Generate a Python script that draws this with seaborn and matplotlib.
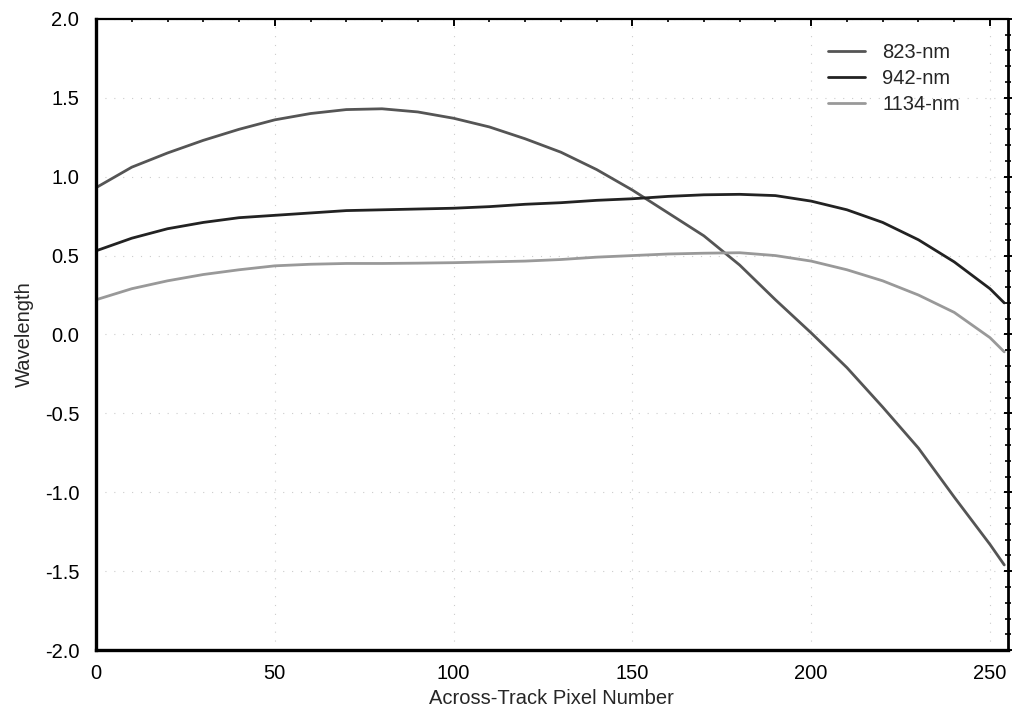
import matplotlib
matplotlib.use("Agg")
import matplotlib.pyplot as plt
import seaborn as sns
import pandas as pd
from matplotlib.ticker import MultipleLocator, FormatStrFormatter

# Across-track pixel positions and per-band values
pixels = [0, 10, 20, 30, 40, 50, 60, 70, 80, 90, 100, 110, 120, 130, 140,
          150, 160, 170, 180, 190, 200, 210, 220, 230, 240, 250, 254]
band_823 = [0.93, 1.06, 1.15, 1.23, 1.30, 1.36, 1.40, 1.425, 1.43, 1.41, 1.37,
            1.315, 1.24, 1.155, 1.045, 0.915, 0.77, 0.625, 0.44, 0.22, 0.01,
            -0.21, -0.46, -0.72, -1.03, -1.33, -1.46]
band_942 = [0.53, 0.61, 0.67, 0.71, 0.74, 0.755, 0.77, 0.785, 0.79, 0.795, 0.80,
            0.81, 0.825, 0.835, 0.85, 0.86, 0.875, 0.885, 0.888, 0.88, 0.845,
            0.79, 0.71, 0.60, 0.46, 0.29, 0.20]
band_1134 = [0.22, 0.29, 0.34, 0.38, 0.41, 0.435, 0.445, 0.45, 0.45, 0.452, 0.455,
             0.46, 0.465, 0.475, 0.49, 0.50, 0.51, 0.515, 0.518, 0.50, 0.465,
             0.41, 0.34, 0.25, 0.14, -0.02, -0.11]
band_names = ["823-nm", "942-nm", "1134-nm"]
band_colors = ["#555555", "#222222", "#999999"]

frames = []
for name, vals in zip(band_names, [band_823, band_942, band_1134]):
    frames.append(pd.DataFrame({"pixel": pixels, "value": vals, "band": name}))
df = pd.concat(frames, ignore_index=True)

sns.set_theme(style="white")
plt.rcParams["font.family"] = ["Liberation Sans", "DejaVu Sans"]

fig = plt.figure(figsize=(10.17, 7.24), dpi=100)
ax = fig.add_axes([0.0944, 0.102, 0.8966, 0.872])

sns.lineplot(data=df, x="pixel", y="value", hue="band", hue_order=band_names,
             palette=dict(zip(band_names, band_colors)), linewidth=2.0, ax=ax)

ax.set_xlim(0, 255)
ax.set_ylim(-2.0, 2.0)
ax.xaxis.set_major_locator(MultipleLocator(50))
ax.yaxis.set_major_locator(MultipleLocator(0.5))
ax.yaxis.set_major_formatter(FormatStrFormatter("%.1f"))
ax.xaxis.set_minor_locator(MultipleLocator(10))
ax.yaxis.set_minor_locator(MultipleLocator(0.1))

ax.tick_params(axis="both", which="major", labelsize=14.5, colors="black")
ax.tick_params(axis="x", which="major", pad=10, bottom=False, top=True,
               direction="in", length=5, width=1.4)
ax.tick_params(axis="y", which="major", pad=9, left=False, right=True,
               direction="inout", length=6, width=1.4)
ax.tick_params(axis="y", which="minor", left=False, right=True,
               direction="inout", length=5, width=1.2, color="black")
ax.tick_params(axis="x", which="minor", bottom=False, top=True,
               direction="in", length=2.5, width=1.2, color="black")

for side in ["left", "bottom", "right", "top"]:
    ax.spines[side].set_visible(True)
    ax.spines[side].set_color("black")
ax.spines["left"].set_linewidth(2.4)
ax.spines["bottom"].set_linewidth(2.4)
ax.spines["right"].set_linewidth(2.0)
ax.spines["top"].set_linewidth(1.6)

ax.grid(True, which="major", color="#cccccc", linestyle=(0, (1, 7)),
        linewidth=0.8)

ax.set_xlabel("Across-Track Pixel Number", fontsize=14.5, labelpad=4)
ax.set_ylabel("Wavelength", fontsize=14.5, labelpad=8)

leg = ax.legend(loc="upper left", frameon=False, fontsize=14.5,
                handlelength=1.85, handletextpad=0.85, labelspacing=0.35,
                borderpad=0, borderaxespad=0,
                bbox_to_anchor=(0.8026, 0.962))
for line in leg.get_lines():
    line.set_linewidth(2.0)

fig.savefig("out.png", dpi=100, facecolor="white")
